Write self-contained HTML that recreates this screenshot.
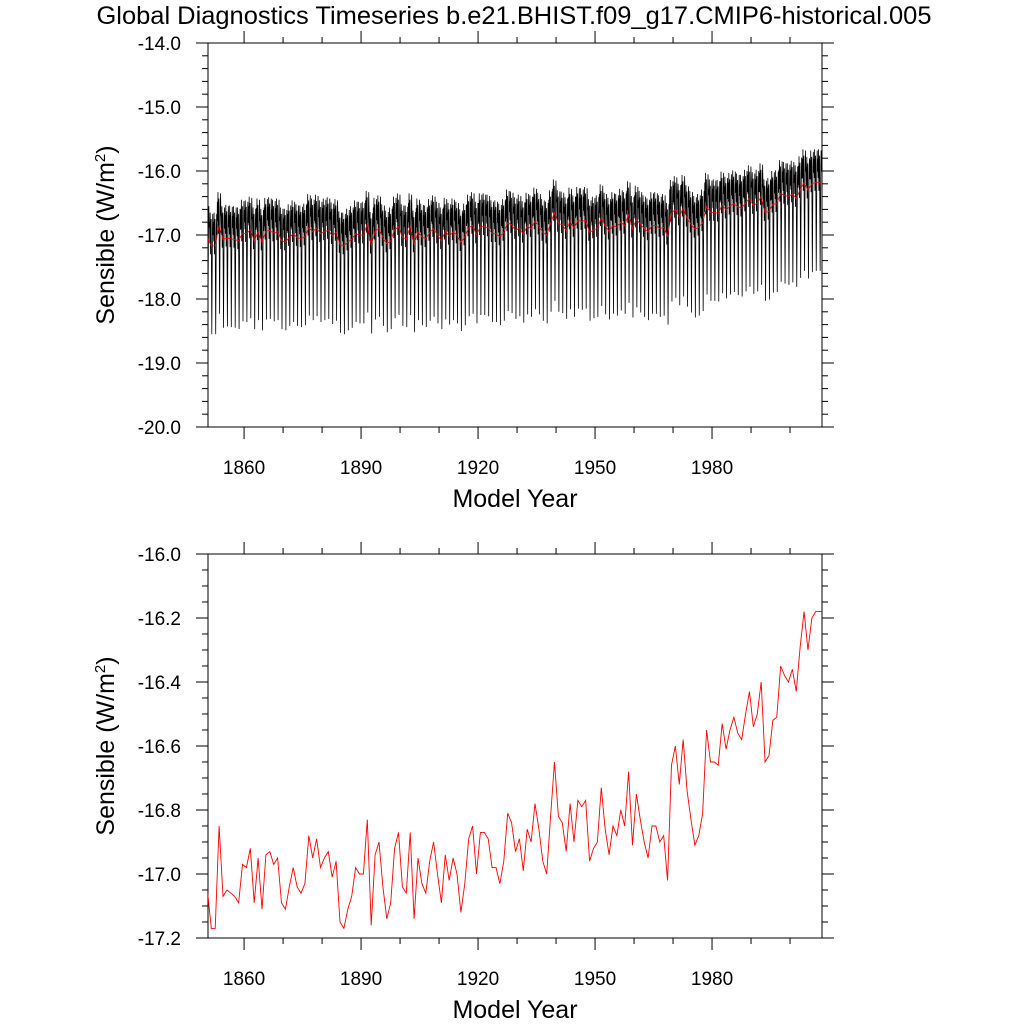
<!DOCTYPE html>
<html><head><meta charset="utf-8"><style>
html,body{margin:0;padding:0;background:#fff;}
svg{display:block;font-family:"Liberation Sans",sans-serif;}
</style></head><body>
<svg id="chart" width="1024" height="1024" viewBox="0 0 1024 1024" xmlns="http://www.w3.org/2000/svg">
<defs>
<clipPath id="clipT"><rect x="208" y="43" width="614" height="384"/></clipPath>
<clipPath id="clipB"><rect x="208" y="554" width="614" height="384"/></clipPath>
</defs>
<text x="514" y="24" font-size="25" text-anchor="middle" textLength="835" lengthAdjust="spacingAndGlyphs">Global Diagnostics Timeseries b.e21.BHIST.f09_g17.CMIP6-historical.005</text>
<g id="top"></g>
<g id="bot"></g>
</svg>
<script>
const annualValues = [-17.05,-17.17,-17.17,-16.85,-17.07,-17.05,-17.06,-17.07,-17.09,-16.97,-16.98,-16.92,-17.09,-16.95,-17.11,-16.94,-16.93,-16.97,-16.95,-17.09,-17.11,-17.04,-16.98,-17.04,-17.06,-17.03,-16.88,-16.95,-16.89,-16.98,-16.95,-16.93,-17.01,-16.96,-17.15,-17.17,-17.11,-17.07,-16.98,-17.0,-17.0,-16.83,-17.16,-16.94,-16.90,-17.04,-17.14,-17.09,-16.92,-16.87,-17.04,-17.06,-16.87,-17.14,-16.95,-17.03,-17.06,-16.96,-16.90,-17.00,-17.09,-16.94,-17.02,-16.95,-17.00,-17.12,-17.03,-16.89,-16.85,-17.0,-16.87,-16.87,-16.89,-16.98,-16.98,-17.03,-16.96,-16.81,-16.84,-16.93,-16.89,-16.99,-16.86,-16.90,-16.78,-16.86,-16.96,-17.00,-16.82,-16.65,-16.82,-16.84,-16.93,-16.78,-16.90,-16.77,-16.79,-16.77,-16.96,-16.92,-16.90,-16.73,-16.86,-16.94,-16.85,-16.88,-16.80,-16.85,-16.68,-16.91,-16.75,-16.83,-16.90,-16.95,-16.85,-16.85,-16.90,-16.88,-17.02,-16.66,-16.60,-16.72,-16.58,-16.74,-16.83,-16.91,-16.88,-16.81,-16.55,-16.65,-16.65,-16.66,-16.53,-16.61,-16.55,-16.51,-16.56,-16.58,-16.50,-16.43,-16.54,-16.50,-16.40,-16.65,-16.63,-16.52,-16.51,-16.35,-16.38,-16.40,-16.36,-16.43,-16.29,-16.18,-16.30,-16.20,-16.18,-16.18,-16.18,-16.20];
const firstYear = 1850.6;
const seasonalOffsets = [0.37,0.07,0.52,-0.13,0.27,0.42,-0.43,-1.38,-0.53,0.27,0.50,0.17];
const yearTicks = [1860,1890,1920,1950,1980];
const topYTicks = ["-14.0","-15.0","-16.0","-17.0","-18.0","-19.0","-20.0"];
const botYTicks = ["-16.0","-16.2","-16.4","-16.6","-16.8","-17.0","-17.2"];

const NS="http://www.w3.org/2000/svg";
function mk(parent,tag,attrs){const e=document.createElementNS(NS,tag);for(const k in attrs)e.setAttribute(k,attrs[k]);parent.appendChild(e);return e;}
const X0=208,X1=822,X_MIN=1850.75,X_MAX=2008.2;
function xs(t){return X0+(t-X_MIN)/(X_MAX-X_MIN)*(X1-X0);}

function panel(g,top,bot,ymin,ymax,yticks,minorStep){
  const ys=v=>bot-(v-ymin)/(ymax-ymin)*(bot-top);
  const fr=mk(g,'rect',{x:X0,y:top,width:X1-X0,height:bot-top,fill:'none',stroke:'#000','stroke-width':1});
  
  
  for(let yr=1860;yr<=2000;yr+=10){
    const x=xs(yr);const major=(yr-1860)%30===0;const L=major?12:6;
    const t1=mk(g,'line',{x1:x,y1:bot,x2:x,y2:bot+L,stroke:'#000'});
    
    
    const t2=mk(g,'line',{x1:x,y1:top,x2:x,y2:top-L,stroke:'#000'});
    
    
  }
  yearTicks.forEach(yr=>{
    const t=mk(g,'text',{x:xs(yr),y:bot+47,'font-size':19,'text-anchor':'middle'});t.textContent=yr;
    
    
  });
  const n=Math.round((ymax-ymin)/minorStep);
  for(let i=0;i<=n;i++){
    const v=ymin+i*minorStep;const y=ys(v);
    const major=i%(n/6)===0;const L=major?12:6;
    const a=mk(g,'line',{x1:X0,y1:y,x2:X0-L,y2:y,stroke:'#000'});
    
    
    const b=mk(g,'line',{x1:X1,y1:y,x2:X1+L,y2:y,stroke:'#000'});
    
    
  }
  yticks.forEach(lbl=>{
    const t=mk(g,'text',{x:181,y:ys(parseFloat(lbl))+7,'font-size':19,'text-anchor':'end'});t.textContent=lbl;
    
    
  });
  const xt=mk(g,'text',{x:515,y:bot+80,'font-size':25,'text-anchor':'middle'});xt.textContent='Model Year';
  
  
  const cy=(top+bot)/2;
  const yt=mk(g,'text',{x:114,y:cy,'font-size':25,'text-anchor':'middle',transform:`rotate(-90 114 ${cy})`});
  yt.innerHTML='Sensible (W/m<tspan dy="-9" font-size="15">2</tspan><tspan dy="9">)</tspan>';
  
  
  return ys;
}

const gt=document.getElementById('top');
const ysT=panel(gt,43,427,-20,-14,topYTicks,0.2);
let pts=[];
annualValues.forEach((v,i)=>{
  seasonalOffsets.forEach((o,m)=>{
    const t=firstYear+i+(m-5.5)/12;
    pts.push(xs(t).toFixed(2)+','+ysT(v+o).toFixed(2));
  });
});
const ml=mk(gt,'polyline',{points:pts.join(' '),fill:'none',stroke:'#000','stroke-width':0.8,'clip-path':'url(#clipT)'});


const rl=mk(gt,'polyline',{points:annualValues.map((v,i)=>xs(firstYear+i).toFixed(2)+','+ysT(v).toFixed(2)).join(' '),fill:'none',stroke:'#f00','stroke-width':0.8,'clip-path':'url(#clipT)'});



const gb=document.getElementById('bot');
const ysB=panel(gb,554,938,-17.2,-16.0,botYTicks,0.05);
const rb=mk(gb,'polyline',{points:annualValues.map((v,i)=>xs(firstYear+i).toFixed(2)+','+ysB(v).toFixed(2)).join(' '),fill:'none',stroke:'#f00','stroke-width':0.9,'clip-path':'url(#clipB)'});


</script>
</body></html>
